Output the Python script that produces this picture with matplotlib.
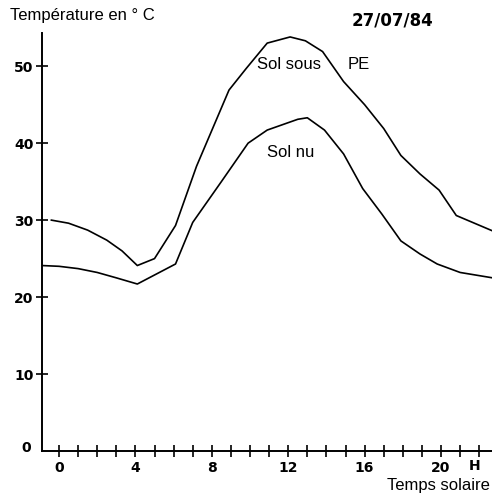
import numpy as np
import matplotlib.pyplot as plt

plt.rcParams['font.family'] = ['Liberation Sans', 'DejaVu Sans']

# heures (temps solaire) et températures
h_pe = [-0.4, 0.5, 1.5, 2.5, 3.3, 4.1, 5.0, 6.1, 7.2, 8.9, 9.8, 10.9, 12.1, 12.9, 13.8, 14.9, 16.0, 17.0, 17.9, 18.9, 19.9, 20.8, 22.7]
t_pe = [30.0, 29.6, 28.7, 27.4, 26.0, 24.1, 25.0, 29.3, 37.0, 46.9, 49.7, 53.0, 53.8, 53.3, 51.9, 48.0, 45.0, 41.9, 38.4, 36.0, 33.9, 30.6, 28.6]

h_nu = [-0.9, 0, 1, 2, 3, 4.1, 6.1, 7.0, 8.5, 9.9, 10.9, 12.5, 13.0, 13.9, 14.9, 15.9, 16.9, 17.9, 18.9, 19.8, 21.0, 22.7]
t_nu = [24.1, 24.0, 23.7, 23.2, 22.5, 21.7, 24.3, 29.7, 35.0, 40.0, 41.7, 43.1, 43.3, 41.7, 38.6, 34.1, 30.8, 27.3, 25.6, 24.3, 23.2, 22.5]

xticks_major = [0, 4, 8, 12, 16, 20]
yticks = [10, 20, 30, 40, 50]

num_font = dict(family='DejaVu Sans', fontweight='bold', fontsize=10)

fig = plt.figure(figsize=(4.92, 4.94), dpi=100)
ax = fig.add_axes([0.0854, 0.087, 0.9146, 0.846])

ax.plot(h_pe, t_pe, color='black', lw=1.2)
ax.plot(h_nu, t_nu, color='black', lw=1.2)

ax.set_xlim(-0.89, 22.67)
ax.set_ylim(0, 54.3)
for s in ['top', 'right']:
    ax.spines[s].set_visible(False)
ax.spines['left'].set_linewidth(1.4)
ax.spines['bottom'].set_linewidth(1.4)

ax.set_xticks(np.arange(0, 23))
ax.set_xticklabels([str(h) if h in xticks_major else '' for h in range(23)])
ax.set_yticks(yticks)
ax.tick_params(direction='inout', length=8, width=1.2, pad=3)
ax.tick_params(axis='y', pad=2)
for lab in ax.get_xticklabels() + ax.get_yticklabels():
    lab.set_fontproperties('DejaVu Sans')
    lab.set_fontweight('bold')
    lab.set_fontsize(10)

# le 0 de l'axe vertical
ax.text(-0.025, 0.008, '0', transform=ax.transAxes, ha='right', va='center', **num_font)

fig.text(0.02, 0.968, 'Température en ° C', fontsize=12, va='center')
fig.text(0.715, 0.958, '27/07/84', va='center', family='DejaVu Sans',
         fontweight='bold', fontsize=12)
ax.text(10.35, 50.2, 'Sol sous', fontsize=12, va='center')
ax.text(15.1, 50.2, 'PE', fontsize=12, va='center')
ax.text(10.9, 38.8, 'Sol nu', fontsize=12, va='center')
ax.text(21.75, -1.9, 'H', va='center', ha='center', **num_font)
fig.text(0.995, 0.018, 'Temps solaire', fontsize=12, ha='right', va='center')

fig.savefig('out.png', dpi=100)
